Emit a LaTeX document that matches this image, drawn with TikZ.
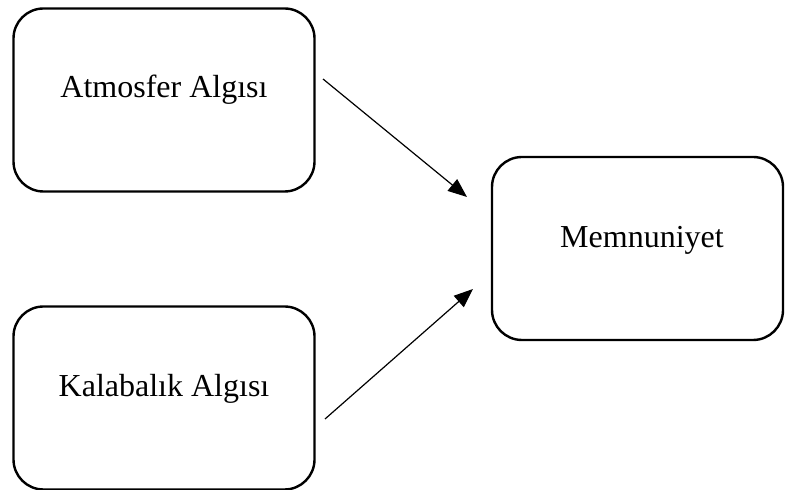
\documentclass[tikz,border=0pt]{standalone}
\usepackage{fontspec}
\setmainfont{Liberation Serif}
\usetikzlibrary{arrows.meta}

\tikzset{
	kutu/.style={draw, rectangle, rounded corners=15pt, line width=1.2pt, minimum width=150.5pt, minimum height=91.5pt},
	yazi/.style={font=\fontsize{16}{19}\selectfont},
	ok/.style={-{Triangle[length=9.5pt,width=7.5pt]}, line width=0.6pt}
}

\begin{document}
\begin{tikzpicture}[x=0.5pt,y=-0.5pt]
	\useasboundingbox (0,0) rectangle (785,490);
	
	\node[kutu] (atmosfer) at (164,100) {};
	\node[kutu] (kalabalik) at (164,398) {};
	\node[kutu, minimum width=145.5pt] (memnuniyet) at (637.5,248.5) {};
	
	\node[yazi] (atmosferyazi) at (164,90) {Atmosfer Algısı};
	\node[yazi] (kalabalikyazi) at (164,389) {Kalabalık Algısı};
	\node[yazi] (memnuniyetyazi) at (642,240) {Memnuniyet};
	
	\coordinate (a1) at (323,79);
	\coordinate (a2) at (467,197);
	\coordinate (k1) at (325,419);
	\coordinate (k2) at (473,289);
	
	\draw[ok] (a1) -- (a2);
	\draw[ok] (k1) -- (k2);
	
\end{tikzpicture}
\end{document}
